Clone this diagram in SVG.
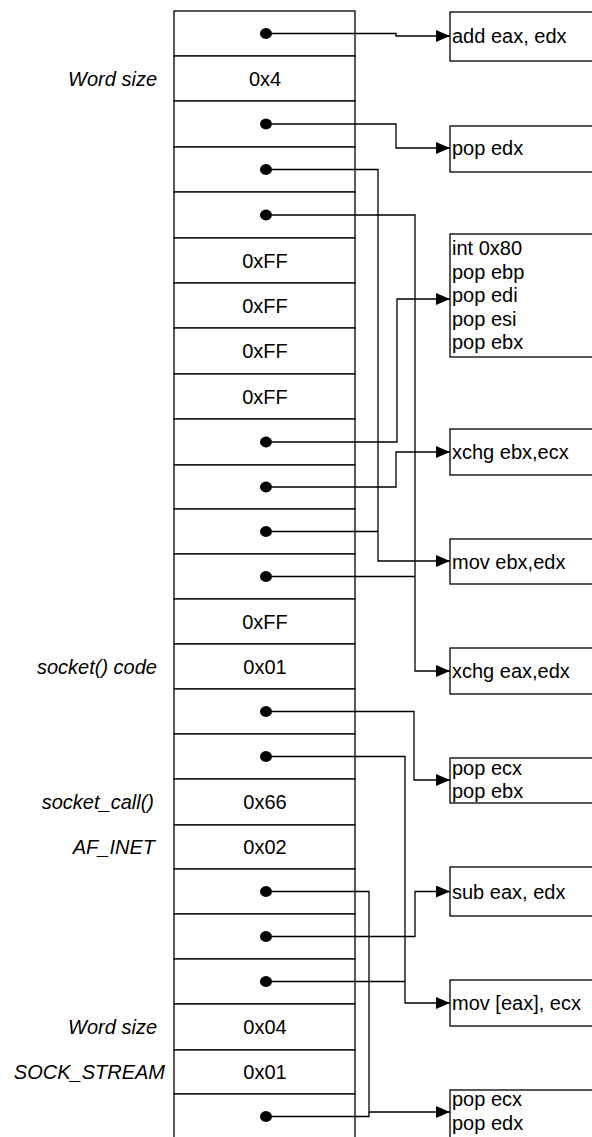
<svg xmlns="http://www.w3.org/2000/svg" width="592" height="1137" viewBox="0 0 592 1137">
<style>
.cell{fill:#fff;stroke:#000;stroke-width:1.3}
.box{fill:#fff;stroke:#000;stroke-width:1.3}
.val{font-family:"Liberation Sans",Arial,sans-serif;font-size:20px;fill:#000;text-anchor:middle}
.lbl{font-family:"Liberation Sans",Arial,sans-serif;font-size:20px;font-style:italic;fill:#000;text-anchor:end}
.code{font-family:"Liberation Sans",Arial,sans-serif;font-size:20px;fill:#000}
.dot{fill:#000}
.wire{fill:none;stroke:#000;stroke-width:1.3}
</style>
<defs>
<marker id="ah" markerWidth="14" markerHeight="12" refX="14" refY="6" orient="auto" markerUnits="userSpaceOnUse">
<path d="M0,0 L14,6 L0,12 z" fill="#000"/>
</marker>
</defs>
<rect width="592" height="1137" fill="#fff"/>

<g id="stack">
<g id="cell-1"><rect class="cell" x="174" y="11" width="181" height="45"/><ellipse class="dot" cx="266" cy="33.5" rx="6" ry="5.4"/></g>
<g id="cell-2"><rect class="cell" x="174" y="56" width="181" height="45"/><text class="val" x="265" y="85.5">0x4</text><text class="lbl" x="157" y="85.5">Word size</text></g>
<g id="cell-3"><rect class="cell" x="174" y="101" width="181" height="46"/><ellipse class="dot" cx="266" cy="124" rx="6" ry="5.4"/></g>
<g id="cell-4"><rect class="cell" x="174" y="147" width="181" height="45"/><ellipse class="dot" cx="266" cy="169.5" rx="6" ry="5.4"/></g>
<g id="cell-5"><rect class="cell" x="174" y="192" width="181" height="46"/><ellipse class="dot" cx="266" cy="215" rx="6" ry="5.4"/></g>
<g id="cell-6"><rect class="cell" x="174" y="238" width="181" height="45"/><text class="val" x="265" y="267.5">0xFF</text></g>
<g id="cell-7"><rect class="cell" x="174" y="283" width="181" height="45"/><text class="val" x="265" y="312.5">0xFF</text></g>
<g id="cell-8"><rect class="cell" x="174" y="328" width="181" height="46"/><text class="val" x="265" y="358">0xFF</text></g>
<g id="cell-9"><rect class="cell" x="174" y="374" width="181" height="45"/><text class="val" x="265" y="403.5">0xFF</text></g>
<g id="cell-10"><rect class="cell" x="174" y="419" width="181" height="46"/><ellipse class="dot" cx="266" cy="442" rx="6" ry="5.4"/></g>
<g id="cell-11"><rect class="cell" x="174" y="465" width="181" height="44"/><ellipse class="dot" cx="266" cy="487" rx="6" ry="5.4"/></g>
<g id="cell-12"><rect class="cell" x="174" y="509" width="181" height="45"/><ellipse class="dot" cx="266" cy="531.5" rx="6" ry="5.4"/></g>
<g id="cell-13"><rect class="cell" x="174" y="554" width="181" height="45"/><ellipse class="dot" cx="266" cy="576.5" rx="6" ry="5.4"/></g>
<g id="cell-14"><rect class="cell" x="174" y="599" width="181" height="45"/><text class="val" x="265" y="628.5">0xFF</text></g>
<g id="cell-15"><rect class="cell" x="174" y="644" width="181" height="45"/><text class="val" x="265" y="673.5">0x01</text><text class="lbl" x="157" y="673.5">socket() code</text></g>
<g id="cell-16"><rect class="cell" x="174" y="689" width="181" height="45"/><ellipse class="dot" cx="266" cy="711.5" rx="6" ry="5.4"/></g>
<g id="cell-17"><rect class="cell" x="174" y="734" width="181" height="45"/><ellipse class="dot" cx="266" cy="756.5" rx="6" ry="5.4"/></g>
<g id="cell-18"><rect class="cell" x="174" y="779" width="181" height="46"/><text class="val" x="265" y="809">0x66</text><text class="lbl" x="154" y="809">socket_call()</text></g>
<g id="cell-19"><rect class="cell" x="174" y="825" width="181" height="44"/><text class="val" x="265" y="854">0x02</text><text class="lbl" x="155" y="854">AF_INET</text></g>
<g id="cell-20"><rect class="cell" x="174" y="869" width="181" height="45"/><ellipse class="dot" cx="266" cy="891.5" rx="6" ry="5.4"/></g>
<g id="cell-21"><rect class="cell" x="174" y="914" width="181" height="45"/><ellipse class="dot" cx="266" cy="936.5" rx="6" ry="5.4"/></g>
<g id="cell-22"><rect class="cell" x="174" y="959" width="181" height="45"/><ellipse class="dot" cx="266" cy="981.5" rx="6" ry="5.4"/></g>
<g id="cell-23"><rect class="cell" x="174" y="1004" width="181" height="46"/><text class="val" x="265" y="1034">0x04</text><text class="lbl" x="157" y="1034">Word size</text></g>
<g id="cell-24"><rect class="cell" x="174" y="1050" width="181" height="44"/><text class="val" x="265" y="1079">0x01</text><text class="lbl" x="165" y="1079">SOCK_STREAM</text></g>
<g id="cell-25"><rect class="cell" x="174" y="1094" width="181" height="50"/><ellipse class="dot" cx="266" cy="1116.5" rx="6" ry="5.4"/></g>
</g>

<g id="gadget-add"><rect class="box" x="450" y="12" width="150" height="49"/><text class="code" x="452" y="43">add eax, edx</text></g>
<g id="gadget-popedx"><rect class="box" x="450" y="126" width="150" height="46"/><text class="code" x="452" y="155">pop edx</text></g>
<g id="gadget-int80"><rect class="box" x="450" y="234" width="150" height="123"/>
<text class="code" x="452" y="255">int 0x80</text>
<text class="code" x="452" y="278.5">pop ebp</text>
<text class="code" x="452" y="302">pop edi</text>
<text class="code" x="452" y="325.5">pop esi</text>
<text class="code" x="452" y="349">pop ebx</text></g>
<g id="gadget-xchg-ebx"><rect class="box" x="450" y="429" width="150" height="46"/><text class="code" x="452" y="459">xchg ebx,ecx</text></g>
<g id="gadget-mov-ebx"><rect class="box" x="450" y="539" width="150" height="45"/><text class="code" x="452" y="569">mov ebx,edx</text></g>
<g id="gadget-xchg-eax"><rect class="box" x="450" y="648" width="150" height="46"/><text class="code" x="452" y="678">xchg eax,edx</text></g>
<g id="gadget-popecx-ebx"><rect class="box" x="450" y="758" width="150" height="45"/><text class="code" x="452" y="775">pop ecx</text><text class="code" x="452" y="798">pop ebx</text></g>
<g id="gadget-sub"><rect class="box" x="450" y="867" width="150" height="49"/><text class="code" x="452" y="899">sub eax, edx</text></g>
<g id="gadget-mov-mem"><rect class="box" x="450" y="980" width="150" height="46"/><text class="code" x="452" y="1010">mov [eax], ecx</text></g>
<g id="gadget-popecx-edx"><rect class="box" x="450" y="1090" width="150" height="55"/><text class="code" x="452" y="1106">pop ecx</text><text class="code" x="452" y="1130">pop edx</text></g>

<g id="connectors">
<path class="wire" d="M272,33.5 H396 V36 H450" marker-end="url(#ah)"/>
<path class="wire" d="M272,124 H396 V148 H450" marker-end="url(#ah)"/>
<path class="wire" d="M272,169.5 H378 V561 H450" marker-end="url(#ah)"/>
<path class="wire" d="M272,531.5 H378"/>
<path class="wire" d="M272,215 H415 V671 H450" marker-end="url(#ah)"/>
<path class="wire" d="M272,576.5 H415"/>
<path class="wire" d="M272,442 H397 V299 H450" marker-end="url(#ah)"/>
<path class="wire" d="M272,487 H396 V452 H450" marker-end="url(#ah)"/>
<path class="wire" d="M272,711.5 H414 V780 H450" marker-end="url(#ah)"/>
<path class="wire" d="M272,756.5 H405 V1003 H450" marker-end="url(#ah)"/>
<path class="wire" d="M272,981.5 H405"/>
<path class="wire" d="M272,891.5 H369 V1112 H450" marker-end="url(#ah)"/>
<path class="wire" d="M272,1116.5 H369 V1112"/>
<path class="wire" d="M272,936.5 H415 V891.5 H450" marker-end="url(#ah)"/>
</g>
</svg>
